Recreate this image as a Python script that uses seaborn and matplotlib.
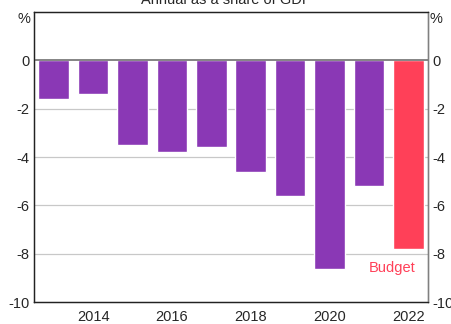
import matplotlib
matplotlib.use("Agg")
import matplotlib.pyplot as plt
import seaborn as sns
import pandas as pd
import numpy as np

years = [2013, 2014, 2015, 2016, 2017, 2018, 2019, 2020, 2021, 2022]
values = [-1.6, -1.4, -3.5, -3.8, -3.6, -4.6, -5.6, -8.65, -5.2, -7.8]
kind = ["Actual"] * 9 + ["Budget"]
yticks = [0, -2, -4, -6, -8, -10]
xlabels = ["2014", "2016", "2018", "2020", "2022"]

sns.set_style("white")
plt.rcParams["font.family"] = ["Liberation Sans", "DejaVu Sans"]
plt.rcParams["font.size"] = 10.5

df = pd.DataFrame({"year": years, "value": values, "kind": kind})

fig = plt.figure(figsize=(4.52, 3.24), dpi=100)
ax = fig.add_axes([34 / 452, 22 / 324, 394 / 452, 290 / 324])

sns.barplot(data=df, x="year", y="value", hue="kind",
            palette={"Actual": "#8a38b5", "Budget": "#ff4058"},
            dodge=False, width=0.78, legend=False, ax=ax, saturation=1)

ax.set_xlim(-0.5, len(years) - 0.5)
ax.set_ylim(-10, 2)
ax.set_xlabel("")
ax.set_ylabel("")

for y in yticks[1:-1]:
    ax.axhline(y, color="#c8c8c8", lw=0.9, zorder=0)
ax.axhline(0, color="#707070", lw=1.2, zorder=3)

ax.set_yticks(yticks)
ax.set_yticklabels([str(t) for t in yticks])
ax.tick_params(axis="y", length=0, pad=3, labelsize=10.5)

ax2 = ax.twinx()
ax2.set_ylim(ax.get_ylim())
ax2.set_yticks(yticks)
ax2.set_yticklabels([str(t) for t in yticks])
ax2.tick_params(axis="y", length=0, pad=3, labelsize=10.5)

pos_labels = [years.index(int(l)) for l in xlabels]
ax.set_xticks(pos_labels)
ax.set_xticklabels(xlabels)
ax.set_xticks(np.arange(0.5, len(years) - 1, 1.0), minor=True)
ax.tick_params(axis="x", which="major", length=0, pad=6, labelsize=10.5)
ax.tick_params(axis="x", which="minor", direction="in", length=5, color="#333333", width=0.8)

for a in (ax, ax2):
    for s in a.spines.values():
        s.set_color("#222222")
        s.set_linewidth(0.9)
ax2.spines["right"].set_color("#808080")

ax.text(-0.01, 1.7, "%", transform=ax.get_yaxis_transform(), ha="right", va="center", fontsize=10.5)
ax.text(1.005, 1.7, "%", transform=ax.get_yaxis_transform(), ha="left", va="center", fontsize=10.5)

ax2.text(years.index(2022) - 0.4, -8.6, "Budget", color="#ff4058", ha="center", va="center", fontsize=10.5)

fig.text(0.5, 1.0, "Annual as a share of GDP", ha="center", va="center", fontsize=10.5)

fig.savefig("out.png", dpi=100)
